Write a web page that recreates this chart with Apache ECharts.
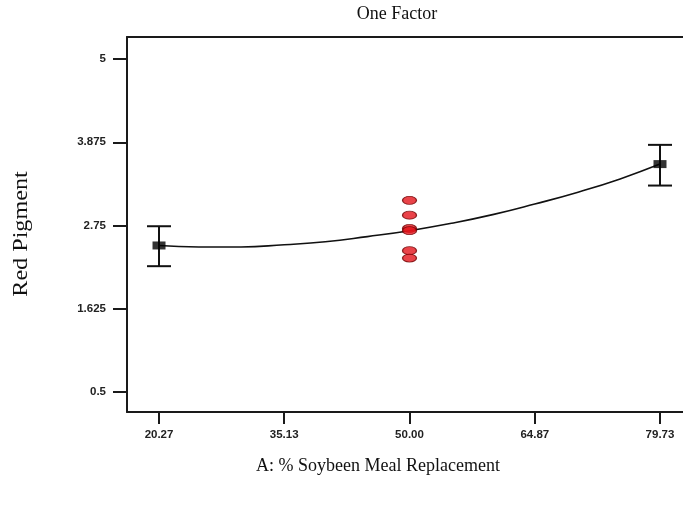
<!DOCTYPE html>
<html>
<head>
<meta charset="utf-8">
<script src="https://cdn.jsdelivr.net/npm/echarts@6/dist/echarts.min.js"></script>
<style>
html,body{margin:0;padding:0;background:#fff;}
#main{width:683px;height:506px;}
</style>
</head>
<body>
<div id="main"></div>
<script>
// tick positions
var xTicks = [20.27, 35.13, 50.00, 64.87, 79.73];
var yTicks = [0.5, 1.625, 2.75, 3.875, 5];

// fitted curve
var curveX = [20.27, 25, 30, 35.13, 40, 45, 50, 55, 60, 64.87, 70, 75, 79.73];
var curveY = [2.48, 2.46, 2.46, 2.49, 2.53, 2.60, 2.68, 2.78, 2.90, 3.04, 3.20, 3.38, 3.58];

// design points at centre (red ellipses)
var centerX = 50.00;
var centerY = [3.09, 2.89, 2.71, 2.68, 2.41, 2.31];

// factor levels with mean and interval
var levelX = [20.27, 79.73];
var levelMean = [2.48, 3.58];
var levelLow = [2.20, 3.29];
var levelHigh = [2.74, 3.84];

var myChart = echarts.init(document.getElementById('main'));

var curveData = curveX.map(function (x, i) { return [x, curveY[i]]; });
var centerData = centerY.map(function (y) { return [centerX, y]; });
var meanData = levelX.map(function (x, i) { return [x, levelMean[i]]; });
var barData = levelX.map(function (x, i) { return [x, levelLow[i], levelHigh[i]]; });

var labelFont = {
	fontFamily: 'Liberation Sans',
	fontWeight: 'bold',
	fontSize: 11.5,
	color: '#222'
};
var axisColor = '#1a1a1a';

option = {
	backgroundColor: '#fff',
	animation: false,
	grid: {
		left: 127,
		top: 37,
		right: 0,
		bottom: 94
	},
	xAxis: [{
		type: 'value',
		min: 16.47,
		max: 82.46,
		splitLine: { show: false },
		axisLine: { lineStyle: { color: axisColor, width: 2 } },
		axisTick: {
			show: true,
			length: 12,
			customValues: xTicks,
			lineStyle: { color: axisColor, width: 2 }
		},
		axisLabel: Object.assign({
			margin: 17,
			customValues: xTicks,
			formatter: function (v) { return v.toFixed(2); }
		}, labelFont)
	}, {
		// top frame line only
		type: 'value',
		position: 'top',
		min: 16.47,
		max: 82.46,
		splitLine: { show: false },
		axisLine: { show: true, onZero: false, lineStyle: { color: axisColor, width: 2 } },
		axisTick: { show: false },
		axisLabel: { show: false }
	}],
	yAxis: {
		type: 'value',
		min: 0.229,
		max: 5.298,
		splitLine: { show: false },
		axisLine: { show: true, lineStyle: { color: axisColor, width: 2 } },
		axisTick: {
			show: true,
			length: 14,
			customValues: yTicks,
			lineStyle: { color: axisColor, width: 2 }
		},
		axisLabel: Object.assign({
			margin: 21,
			customValues: yTicks
		}, labelFont)
	},
	graphic: [
		{
			type: 'text',
			x: 397,
			y: 14,
			style: {
				text: 'One Factor',
				textAlign: 'center',
				textVerticalAlign: 'middle',
				font: '18px "Liberation Serif"',
				fill: '#111'
			}
		},
		{
			type: 'text',
			x: 378,
			y: 466,
			style: {
				text: 'A: % Soybeen Meal Replacement',
				textAlign: 'center',
				textVerticalAlign: 'middle',
				font: '18px "Liberation Serif"',
				fill: '#111'
			}
		},
		{
			type: 'text',
			x: 21,
			y: 234,
			rotation: Math.PI / 2,
			scaleX: 1.15,
			style: {
				text: 'Red Pigment',
				textAlign: 'center',
				textVerticalAlign: 'middle',
				font: '21px "Liberation Serif"',
				fill: '#111'
			}
		}
	],
	series: [
		{
			name: 'curve',
			type: 'line',
			smooth: true,
			showSymbol: false,
			symbol: 'none',
			lineStyle: { color: '#111', width: 1.6 },
			data: curveData,
			z: 2
		},
		{
			name: 'bars',
			type: 'custom',
			renderItem: function (params, api) {
				var x = api.value(0);
				var lo = api.coord([x, api.value(1)]);
				var hi = api.coord([x, api.value(2)]);
				var half = 12;
				var st = { stroke: '#111', lineWidth: 2 };
				return {
					type: 'group',
					children: [
						{ type: 'line', shape: { x1: lo[0], y1: lo[1], x2: hi[0], y2: hi[1] }, style: st },
						{ type: 'line', shape: { x1: lo[0] - half, y1: lo[1], x2: lo[0] + half, y2: lo[1] }, style: st },
						{ type: 'line', shape: { x1: hi[0] - half, y1: hi[1], x2: hi[0] + half, y2: hi[1] }, style: st }
					]
				};
			},
			encode: { x: 0, y: [1, 2] },
			data: barData,
			z: 3
		},
		{
			name: 'means',
			type: 'scatter',
			symbol: 'rect',
			symbolSize: [13, 8],
			itemStyle: { color: '#000' },
			data: meanData,
			z: 4
		},
		{
			name: 'center',
			type: 'scatter',
			symbol: 'circle',
			symbolSize: [14, 8],
			itemStyle: { color: '#e3141b', borderColor: '#6b0000', borderWidth: 1 },
			data: centerData,
			z: 5
		}
	]
};
myChart.setOption(option);
</script>
</body>
</html>
